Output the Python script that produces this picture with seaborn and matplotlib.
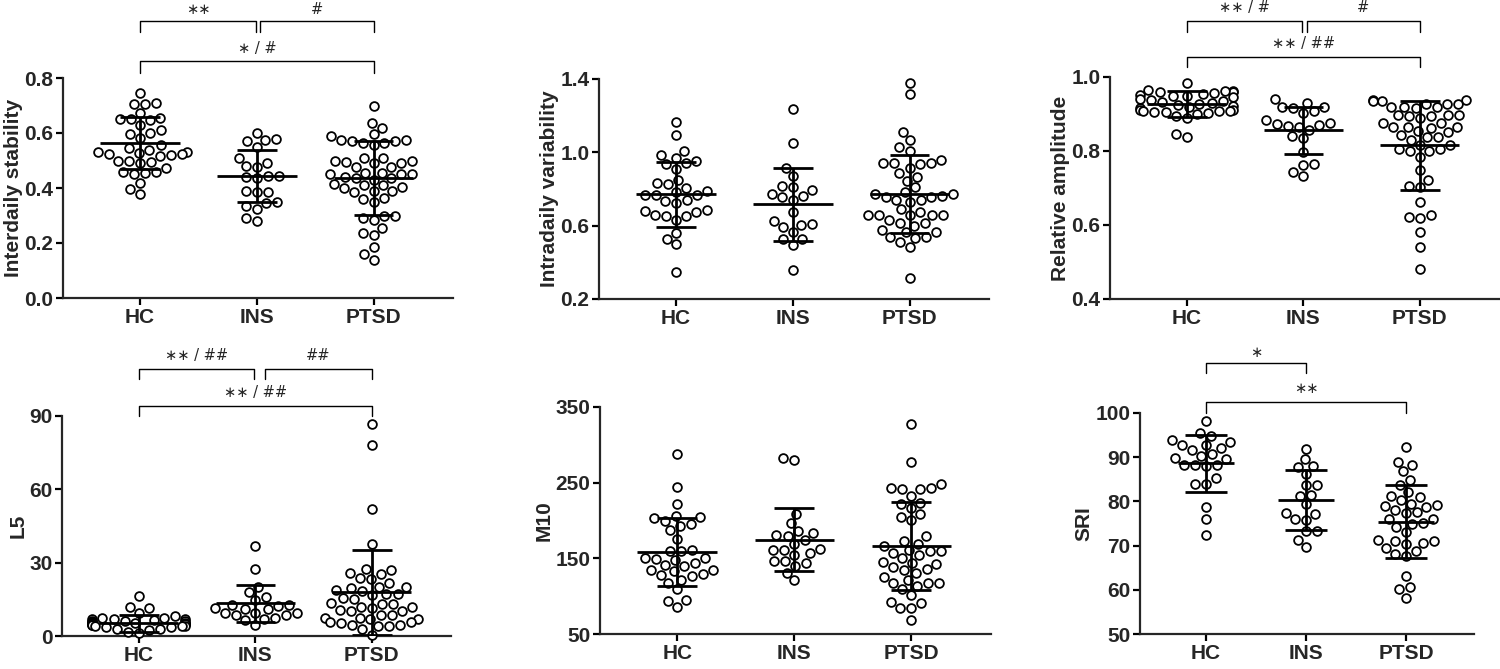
import numpy as np
import pandas as pd
import matplotlib
matplotlib.use("Agg")
import matplotlib.pyplot as plt
import seaborn as sns

# %%
# values
groups = ["HC", "INS", "PTSD"]

is_hc = [0.745, 0.705, 0.71, 0.705, 0.672, 0.65, 0.655, 0.648, 0.652, 0.628, 0.61, 0.6,
         0.598, 0.582, 0.556, 0.545, 0.54, 0.53, 0.53, 0.525, 0.528, 0.52, 0.518, 0.522,
         0.5, 0.495, 0.497, 0.49, 0.472, 0.458, 0.455, 0.46, 0.452, 0.42, 0.395, 0.378]
is_ins = [0.60, 0.58, 0.575, 0.57, 0.55, 0.51, 0.49, 0.475, 0.48, 0.445, 0.445, 0.435,
          0.44, 0.39, 0.385, 0.385, 0.345, 0.35, 0.335, 0.325, 0.29, 0.28]
is_ptsd = [0.70, 0.635, 0.62, 0.595, 0.59, 0.575, 0.575, 0.57, 0.565, 0.57, 0.565, 0.555,
           0.51, 0.51, 0.50, 0.495, 0.49, 0.5, 0.49, 0.475, 0.475, 0.455, 0.455, 0.45,
           0.45, 0.45, 0.435, 0.435, 0.43, 0.44, 0.415, 0.41, 0.405, 0.4, 0.41, 0.39,
           0.385, 0.39, 0.365, 0.36, 0.35, 0.3, 0.3, 0.29, 0.285, 0.255, 0.235, 0.23,
           0.185, 0.16, 0.14]

iv_hc = [1.165, 1.095, 1.01, 0.985, 0.97, 0.955, 0.94, 0.935, 0.91, 0.85, 0.835, 0.825,
         0.805, 0.79, 0.785, 0.77, 0.765, 0.765, 0.74, 0.735, 0.725, 0.685, 0.68, 0.675,
         0.66, 0.655, 0.655, 0.63, 0.56, 0.53, 0.5, 0.345]
iv_ins = [1.235, 1.05, 0.915, 0.87, 0.815, 0.81, 0.795, 0.775, 0.76, 0.755, 0.74, 0.675,
          0.625, 0.61, 0.605, 0.595, 0.565, 0.53, 0.525, 0.495, 0.36]
iv_ptsd = [1.38, 1.316, 1.113, 1.067, 1.027, 1.009, 0.958, 0.94, 0.94, 0.942, 0.938, 0.913,
           0.889, 0.867, 0.845, 0.809, 0.784, 0.773, 0.775, 0.758, 0.757, 0.76, 0.74, 0.742,
           0.731, 0.689, 0.676, 0.658, 0.657, 0.66, 0.659, 0.656, 0.631, 0.613, 0.614, 0.6,
           0.576, 0.564, 0.565, 0.536, 0.537, 0.535, 0.513, 0.485, 0.316]

ra_hc = [0.985, 0.965, 0.962, 0.96, 0.958, 0.96, 0.955, 0.963, 0.952, 0.95, 0.948, 0.945,
         0.94, 0.938, 0.935, 0.932, 0.93, 0.928, 0.925, 0.922, 0.918, 0.915, 0.912, 0.91,
         0.908, 0.908, 0.907, 0.906, 0.905, 0.903, 0.9, 0.895, 0.89, 0.845, 0.837]
ra_ins = [0.94, 0.93, 0.92, 0.918, 0.916, 0.908, 0.903, 0.883, 0.877, 0.873, 0.87, 0.867,
          0.866, 0.858, 0.84, 0.834, 0.798, 0.764, 0.763, 0.744, 0.733]
ra_ptsd = [0.938, 0.937, 0.936, 0.935, 0.928, 0.927, 0.926, 0.92, 0.919, 0.918, 0.917,
           0.898, 0.897, 0.896, 0.895, 0.894, 0.89, 0.876, 0.875, 0.866, 0.865, 0.864,
           0.863, 0.853, 0.852, 0.843, 0.838, 0.837, 0.831, 0.816, 0.815, 0.806, 0.805,
           0.8, 0.799, 0.785, 0.75, 0.722, 0.705, 0.703, 0.663, 0.627, 0.622, 0.62, 0.58,
           0.54, 0.481]

l5_hc = [16.5, 12, 11.5, 9.5, 8, 7.5, 7.5, 7, 7, 6.8, 6.5, 6.3, 6, 6, 5.8, 5.5, 5.5, 5.3,
         5, 5, 5, 4.8, 4.5, 4.5, 4.2, 4, 4, 3.8, 3.5, 3, 2.8, 2.5, 1.5, 1.2]
l5_ins = [37, 27.5, 20.2, 18, 16, 14.6, 12.8, 12.6, 12.4, 11.4, 11.2, 11, 9.6, 9.4, 9.3,
          8.7, 8.5, 7.3, 7.1, 6.5, 4.6]
l5_ptsd = [86.7, 78, 52, 37.6, 27.3, 27, 25.6, 25.4, 23.6, 23.4, 21.8, 20.2, 20, 19.8,
           18.8, 18.6, 17.2, 17, 16.8, 15.4, 15.2, 13.4, 13.2, 13, 12, 11.8, 11.6, 10.6,
           10.4, 10.2, 8.6, 8.4, 7.5, 7.3, 7.1, 6.9, 5.9, 5.7, 5.5, 4.5, 4.3, 4.1, 3.9,
           2.7, 0.4]

m10_hc = [288, 244, 222, 206, 204, 203, 199, 195, 193, 187, 176, 161, 160, 160, 150, 150,
          149, 148, 144, 141, 140, 135, 134, 133, 129, 128, 126, 122, 117, 109, 95, 94, 86]
m10_ins = [282, 280, 209, 197, 186, 183, 181, 180, 174, 169, 162, 161, 161, 157, 155, 147,
           146, 144, 140, 131, 121]
m10_ptsd = [327, 277, 248, 243, 243, 242, 241, 233, 223, 222, 216, 209, 205, 201, 179,
            173, 169, 166, 161, 160, 160, 157, 155, 150, 145, 143, 139, 144, 136, 135,
            131, 125, 122, 118, 118, 117, 114, 109, 102, 92, 91, 85, 84, 69]

sri_hc = [98.1, 95.5, 94.8, 93.8, 93.4, 92.8, 92.7, 92.1, 91.7, 90.7, 90.2, 89.8, 89.5,
          88.3, 88.2, 88.1, 88.2, 85.2, 84, 84, 78.8, 76.1, 72.4]
sri_ins = [91.9, 89.5, 87.9, 87.7, 86.1, 83.8, 83.6, 81.5, 81.3, 79.3, 77.4, 77.2, 76.1,
           75.9, 73.4, 73.2, 71.2, 69.6]
sri_ptsd = [92.2, 88.9, 88.2, 86.8, 84.9, 83.8, 82.2, 81.2, 81.1, 80.4, 79.5, 79.1, 79.0,
            78.8, 78, 77.5, 77.4, 76.1, 76.0, 75.2, 75, 74.2, 73, 71.2, 71.1, 71, 70.6,
            70.3, 69.5, 68.8, 68.2, 67.6, 63.1, 60.7, 60.1, 58.2]

# group mean and SD as drawn in the figure
is_mean, is_sd = [0.563, 0.445, 0.437], [0.095, 0.095, 0.135]
iv_mean, iv_sd = [0.771, 0.718, 0.773], [0.178, 0.199, 0.212]
ra_mean, ra_sd = [0.926, 0.856, 0.815], [0.035, 0.063, 0.12]
l5_mean, l5_sd = [5.2, 13.4, 17.9], [3.4, 7.6, 17.4]
m10_mean, m10_sd = [158, 174.7, 165.9], [45, 42, 58]
sri_mean, sri_sd = [88.6, 80.4, 75.4], [6.4, 6.8, 8.2]

# %%
sns.set_style("ticks")
plt.rcParams["font.family"] = ["Liberation Sans", "DejaVu Sans"]
plt.rcParams["font.weight"] = "bold"

W, H = 1500, 669
FS = 15
fig = plt.figure(figsize=(15, 6.69), dpi=100)


def make_ax(x0, x1, ytop, ybot):
    return fig.add_axes([x0 / W, 1 - ybot / H, (x1 - x0) / W, (ybot - ytop) / H])


def bracket(ax, xa, xb, yline, ytick, text, ytext):
    tr = ax.get_xaxis_transform()
    ax.plot([xa, xa, xb, xb], [ytick, yline, yline, ytick], color="k", lw=1.0,
            transform=tr, clip_on=False)
    ax.text((xa + xb) / 2, ytext, text, transform=tr, ha="center", va="center",
            fontsize=10.5, fontweight="normal", family=["DejaVu Sans"])


def panel(ax, vals, means, sds, ylabel, ylim, yticks, ticklabels, hw=0.34, cw=0.17):
    df = pd.DataFrame({
        "group": sum([[g] * len(v) for g, v in zip(groups, vals)], []),
        "value": sum([list(v) for v in vals], []),
    })
    sns.swarmplot(data=df, x="group", y="value", order=groups, ax=ax, color="white",
                  edgecolor="black", linewidth=1.3, size=6.3, warn_thresh=1.0)
    for c in ax.collections:
        c.set_clip_on(False)
    xs = np.arange(len(groups))
    m = np.array(means)
    s = np.array(sds)
    ax.hlines(m, xs - hw, xs + hw, color="k", lw=2.0, zorder=5)
    ax.vlines(xs, m - s, m + s, color="k", lw=2.0, zorder=5)
    ax.hlines(m + s, xs - cw, xs + cw, color="k", lw=2.0, zorder=5)
    ax.hlines(m - s, xs - cw, xs + cw, color="k", lw=2.0, zorder=5)
    ax.set_xlim(-0.66, 2.68)
    ax.set_ylim(*ylim)
    ax.set_yticks(yticks)
    ax.set_yticklabels(ticklabels)
    ax.set_xlabel("")
    ax.set_ylabel(ylabel, fontsize=FS, fontweight="bold", labelpad=1)
    sns.despine(ax=ax)
    for sp in ["left", "bottom"]:
        ax.spines[sp].set_linewidth(1.6)
    ax.tick_params(width=1.6, length=5, labelsize=FS, color="k", pad=2)
    for lab in ax.get_xticklabels() + ax.get_yticklabels():
        lab.set_fontweight("bold")


ax1 = make_ax(63, 453, 78, 298)
panel(ax1, [is_hc, is_ins, is_ptsd], is_mean, is_sd, "Interdaily stability",
      (0, 0.8), [0, 0.2, 0.4, 0.6, 0.8], ["0.0", "0.2", "0.4", "0.6", "0.8"])
bracket(ax1, 0, 0.99, 1.259, 1.209, "∗∗", 1.31)
bracket(ax1, 1.03, 2.0, 1.259, 1.209, "#", 1.31)
bracket(ax1, 0, 2.0, 1.077, 1.023, "∗ / #", 1.132)

ax2 = make_ax(599, 989, 79, 299)
panel(ax2, [iv_hc, iv_ins, iv_ptsd], iv_mean, iv_sd, "Intradaily variability",
      (0.2, 1.4), [0.2, 0.6, 1.0, 1.4], ["0.2", "0.6", "1.0", "1.4"])

ax3 = make_ax(1110, 1499, 77, 299)
panel(ax3, [ra_hc, ra_ins, ra_ptsd], ra_mean, ra_sd, "Relative amplitude",
      (0.4, 1.0), [0.4, 0.6, 0.8, 1.0], ["0.4", "0.6", "0.8", "1.0"])
bracket(ax3, 0, 0.99, 1.252, 1.203, "∗∗ / #", 1.315)
bracket(ax3, 1.03, 2.0, 1.252, 1.203, "#", 1.315)
bracket(ax3, 0, 2.0, 1.09, 1.045, "∗∗ / ##", 1.153)

ax4 = make_ax(62, 451, 416, 636)
panel(ax4, [l5_hc, l5_ins, l5_ptsd], l5_mean, l5_sd, "L5",
      (0, 90), [0, 30, 60, 90], ["0", "30", "60", "90"])
bracket(ax4, 0, 0.99, 1.214, 1.168, "∗∗ / ##", 1.277)
bracket(ax4, 1.08, 2.0, 1.214, 1.168, "##", 1.277)
bracket(ax4, 0, 2.0, 1.045, 1.0, "∗∗ / ##", 1.109)

ax5 = make_ax(600, 991, 407, 634)
panel(ax5, [m10_hc, m10_ins, m10_ptsd], m10_mean, m10_sd, "M10",
      (50, 350), [50, 150, 250, 350], ["50", "150", "250", "350"])

ax6 = make_ax(1140, 1474, 413, 634)
panel(ax6, [sri_hc, sri_ins, sri_ptsd], sri_mean, sri_sd, "SRI",
      (50, 100), [50, 60, 70, 80, 90, 100], ["50", "60", "70", "80", "90", "100"],
      hw=0.28, cw=0.21)
bracket(ax6, 0, 1.0, 1.226, 1.181, "∗", 1.276)
bracket(ax6, 0, 2.0, 1.05, 1.0, "∗∗", 1.109)

fig.savefig("out.png", dpi=100, facecolor="white")
